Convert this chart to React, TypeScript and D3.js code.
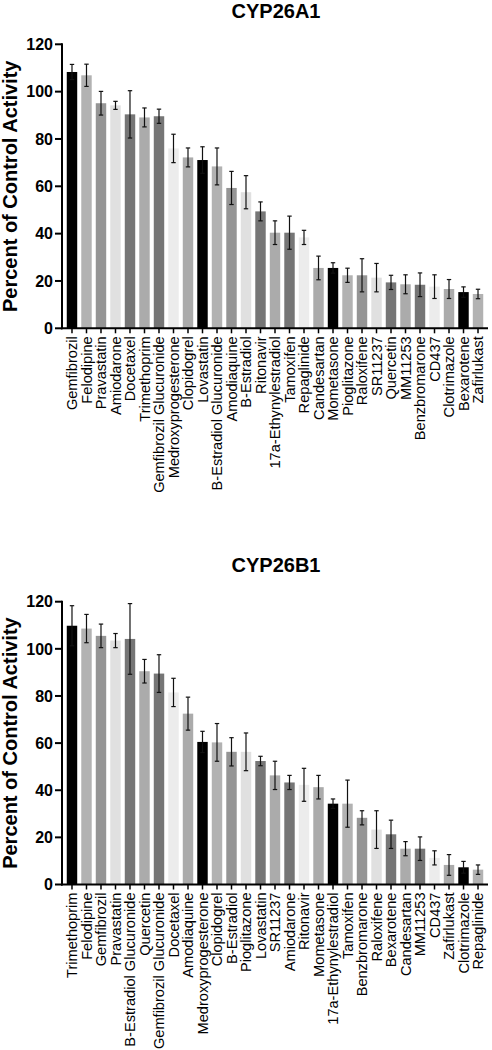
import React from "react";
import * as d3 from "d3";

const a1Names = [
  "Gemfibrozil", "Felodipine", "Pravastatin", "Amiodarone", "Docetaxel", "Trimethoprim",
  "Gemfibrozil Glucuronide", "Medroxyprogesterone", "Clopidogrel", "Lovastatin",
  "B-Estradiol Glucuronide", "Amodiaquine", "B-Estradiol", "Ritonavir", "17a-Ethynylestradiol",
  "Tamoxifen", "Repaglinide", "Candesartan", "Mometasone", "Pioglitazone", "Raloxifene",
  "SR11237", "Quercetin", "MM11253", "Benzbromarone", "CD437", "Clotrimazole", "Bexarotene",
  "Zafirlukast",
];
const a1Values = [
  108.3, 106.9, 95.1, 94.2, 90.4, 89.1, 89.6, 76.0, 72.2, 71.1, 68.4, 59.3, 57.5, 49.4, 40.4,
  40.4, 38.4, 25.5, 25.5, 22.4, 22.4, 21.4, 19.4, 18.6, 18.4, 17.6, 16.6, 15.3, 14.5,
];
const a1Errors = [
  3.2, 4.7, 5, 1.7, 10, 4, 3, 6, 4, 5.6, 7.8, 7, 7, 4, 5, 7, 3, 5, 2.2, 3, 7, 6, 3, 4, 5, 5, 4,
  2.2, 2,
];

const b1Names = [
  "Trimethoprim", "Felodipine", "Gemfibrozil", "Pravastatin", "B-Estradiol Glucuronide",
  "Quercetin", "Gemfibrozil Glucuronide", "Docetaxel", "Amodiaquine", "Medroxyprogesterone",
  "Clopidogrel", "B-Estradiol", "Pioglitazone", "Lovastatin", "SR11237", "Amiodarone",
  "Ritonavir", "Mometasone", "17a-Ethynylestradiol", "Tamoxifen", "Benzbromarone",
  "Raloxifene", "Bexarotene", "Candesartan", "MM11253", "CD437", "Zafirlukast",
  "Clotrimazole", "Repaglinide",
];
const b1Values = [
  109.8, 108.6, 105.5, 103.5, 104.2, 90.5, 89.5, 81.5, 72.5, 60.5, 60.3, 56.3, 56.3, 52.4, 46.3,
  43.3, 42.3, 41.3, 34.3, 34.3, 28.3, 23.3, 21.3, 15.2, 15.2, 11.3, 8.3, 7.3, 6.3,
];
const b1Errors = [
  8.5, 6, 5, 3, 15, 5, 8, 6, 7, 4.5, 8, 6, 8, 2, 6, 3, 7, 5, 2, 10, 3, 8, 6, 3, 5, 3, 4.4, 2.5,
  2,
];

const yTicks = [0, 20, 40, 60, 80, 100, 120];
const barColors = [
  "#000000", "#b2b2b2", "#959595", "#e0e0e0", "#767676", "#ababab", "#767676", "#ececec",
  "#ababab",
];

const FONT = "'Liberation Sans', Arial, Helvetica, sans-serif";

type PanelProps = {
  title: string;
  names: string[];
  values: number[];
  errors: number[];
  y0: number;
  y120: number;
  titleY: number;
};

function Panel({ title, names, values, errors, y0, y120, titleY }: PanelProps) {
  const axisX = 62;
  const x = d3
    .scaleBand<string>()
    .domain(names)
    .range([63, 487])
    .paddingInner(0.28)
    .paddingOuter(0.26);
  const y = d3.scaleLinear().domain([0, 120]).range([y0, y120]);
  const bw = x.bandwidth();
  return (
    <g>
      <text
        x={276}
        y={titleY}
        textAnchor="middle"
        fontFamily={FONT}
        fontWeight="bold"
        fontSize={20}
        fill="#000"
      >
        {title}
      </text>
      <text
        transform={`translate(17,${(y0 + y120) / 2}) rotate(-90)`}
        textAnchor="middle"
        fontFamily={FONT}
        fontWeight="bold"
        fontSize={20}
        fill="#000"
      >
        Percent of Control Activity
      </text>
      {names.map((n, i) => (
        <rect
          key={"b" + i}
          x={x(n)}
          y={y(values[i])}
          width={bw}
          height={y(0) - y(values[i])}
          fill={barColors[i % barColors.length]}
        />
      ))}
      {names.map((n, i) => {
        const cx = (x(n) as number) + bw / 2;
        const hi = y(values[i] + errors[i]);
        const lo = y(values[i] - errors[i]);
        return (
          <g key={"e" + i} stroke="#111" strokeWidth={1.2}>
            <line x1={cx} x2={cx} y1={hi} y2={lo} />
            <line x1={cx - 2.2} x2={cx + 2.2} y1={hi} y2={hi} />
            <line x1={cx - 2.2} x2={cx + 2.2} y1={lo} y2={lo} />
          </g>
        );
      })}
      <line x1={axisX} x2={axisX} y1={y(120) - 1} y2={y(0) + 1} stroke="#000" strokeWidth={2} />
      {yTicks.map((t) => (
        <g key={"t" + t}>
          <line x1={axisX - 7} x2={axisX} y1={y(t)} y2={y(t)} stroke="#000" strokeWidth={2} />
          <text
            x={axisX - 9}
            y={y(t)}
            dy="0.36em"
            textAnchor="end"
            fontFamily={FONT}
            fontWeight="bold"
            fontSize={16}
            fill="#000"
          >
            {t}
          </text>
        </g>
      ))}
      <line x1={axisX - 1} x2={488} y1={y(0)} y2={y(0)} stroke="#000" strokeWidth={2} />
      {names.map((n, i) => {
        const cx = (x(n) as number) + bw / 2;
        return (
          <g key={"x" + i}>
            <line x1={cx} x2={cx} y1={y(0)} y2={y(0) + 5} stroke="#000" strokeWidth={1.5} />
            <text
              transform={`translate(${cx},${y(0) + 8}) rotate(-90)`}
              dy="0.36em"
              textAnchor="end"
              fontFamily={FONT}
              fontSize={14.6}
              fill="#000"
            >
              {n}
            </text>
          </g>
        );
      })}
    </g>
  );
}

export default function App() {
  return (
    <svg
      width={492}
      height={1050}
      style={{ position: "absolute", left: 0, top: 0, background: "#fff" }}
    >
      <rect width={492} height={1050} fill="#fff" />
      <Panel
        title="CYP26A1"
        names={a1Names}
        values={a1Values}
        errors={a1Errors}
        y0={328.3}
        y120={44.3}
        titleY={18}
      />
      <Panel
        title="CYP26B1"
        names={b1Names}
        values={b1Values}
        errors={b1Errors}
        y0={884.5}
        y120={601.7}
        titleY={572}
      />
    </svg>
  );
}
